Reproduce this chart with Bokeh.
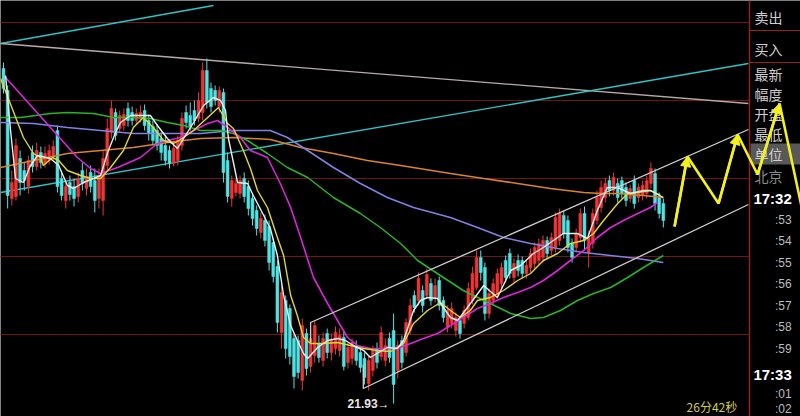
from bokeh.plotting import figure
from bokeh.models import Range1d, Label, BoxAnnotation, Arrow, NormalHead, ColumnDataSource, Span
from bokeh.embed import file_html
from bokeh.resources import INLINE

# ---------------- candle data (price) ----------------
opens = [25.28, 25.06, 23.98, 24.00, 24.38, 24.26, 24.10, 24.44, 24.30, 24.44,
         24.33, 24.36, 24.40, 24.66, 24.18, 23.96, 24.14, 24.10, 24.00, 24.26,
         24.08, 24.24, 24.16, 23.98, 23.96, 24.31, 24.64, 24.84, 24.68, 24.71,
         24.88, 24.84, 24.76, 24.78, 24.86, 24.76, 24.70, 24.66, 24.58, 24.51,
         24.46, 24.33, 24.36, 24.51, 24.84, 24.81, 24.86, 24.78, 24.84, 25.26,
         25.08, 25.06, 24.90, 25.04, 24.36, 23.98, 24.04, 24.03, 24.18, 24.10,
         23.98, 23.86, 23.64, 23.76, 23.70, 23.54, 23.30, 22.64, 22.96, 22.88,
         22.58, 22.56, 22.16, 22.63, 22.30, 22.41, 22.53, 22.36, 22.63, 22.44,
         22.48, 22.46, 22.59, 22.34, 22.38, 22.50, 22.44, 22.38, 22.13, 22.26,
         22.48, 22.40, 22.36, 22.58, 22.66, 22.26, 22.56, 22.44, 22.66, 23.01,
         22.96, 23.06, 23.01, 23.13, 22.98, 23.16, 22.96, 22.69, 22.73, 22.66,
         22.76, 22.73, 22.79, 22.96, 23.09, 23.39, 23.29, 22.83, 22.96, 23.03,
         23.13, 23.36, 23.43, 23.19, 23.36, 23.36, 23.23, 23.29, 23.33, 23.36,
         23.39, 23.56, 23.46, 23.49, 23.56, 23.81, 23.76, 23.53, 23.49, 23.59,
         23.83, 23.44, 23.53, 23.76, 23.89, 23.99, 24.16, 24.06, 24.13, 24.16,
         24.09, 23.98, 24.16, 23.99, 24.01, 24.03, 24.13, 24.23, 23.99, 23.93]
highs = [25.34, 25.11, 24.26, 24.58, 24.46, 24.34, 24.41, 24.51, 24.54, 24.50,
         24.50, 24.52, 24.56, 24.71, 24.26, 24.16, 24.21, 24.18, 24.24, 24.34,
         24.28, 24.31, 24.28, 24.28, 24.46, 24.78, 24.96, 24.88, 24.86, 24.88,
         24.94, 24.90, 24.88, 24.91, 24.92, 24.82, 24.76, 24.72, 24.64, 24.61,
         24.51, 24.56, 24.61, 24.84, 24.91, 24.94, 24.96, 25.04, 25.34, 25.38,
         25.14, 25.11, 25.10, 25.08, 24.44, 24.21, 24.18, 24.21, 24.24, 24.16,
         24.03, 23.91, 23.84, 23.82, 23.76, 23.58, 23.36, 23.12, 23.01, 22.92,
         22.62, 22.61, 22.78, 22.68, 22.66, 22.76, 22.61, 22.64, 22.68, 22.63,
         22.70, 22.68, 22.66, 22.54, 22.58, 22.56, 22.50, 22.44, 22.41, 22.51,
         22.54, 22.70, 22.58, 22.64, 22.83, 22.56, 22.61, 22.78, 22.98, 23.06,
         23.24, 23.11, 23.28, 23.18, 23.18, 23.20, 23.00, 22.91, 22.94, 22.84,
         22.80, 22.91, 23.14, 23.30, 23.46, 23.46, 23.34, 23.08, 23.18, 23.28,
         23.34, 23.41, 23.48, 23.38, 23.42, 23.40, 23.36, 23.48, 23.54, 23.58,
         23.61, 23.60, 23.64, 23.84, 23.88, 23.86, 23.81, 23.58, 23.68, 23.88,
         23.90, 23.66, 23.88, 24.06, 24.16, 24.19, 24.21, 24.24, 24.18, 24.20,
         24.14, 24.12, 24.21, 24.13, 24.16, 24.21, 24.34, 24.28, 24.04, 23.98]
lows = [25.03, 23.88, 23.91, 23.96, 24.01, 24.06, 24.03, 24.24, 24.26, 24.28,
        24.29, 24.32, 24.36, 24.04, 23.96, 23.88, 23.96, 23.90, 23.94, 24.06,
        24.01, 24.04, 23.84, 23.88, 23.81, 24.26, 24.58, 24.56, 24.64, 24.66,
        24.70, 24.71, 24.72, 24.74, 24.66, 24.56, 24.51, 24.46, 24.36, 24.31,
        24.28, 24.30, 24.31, 24.46, 24.68, 24.66, 24.71, 24.74, 24.76, 24.88,
        24.84, 24.91, 24.84, 24.14, 23.94, 23.90, 24.00, 23.98, 23.94, 23.81,
        23.71, 23.61, 23.58, 23.50, 23.26, 23.14, 22.64, 22.48, 22.38, 22.32,
        22.08, 22.18, 22.06, 22.21, 22.24, 22.34, 22.34, 22.30, 22.38, 22.36,
        22.42, 22.40, 22.26, 22.28, 22.32, 22.31, 22.24, 22.12, 22.06, 22.20,
        22.28, 22.36, 22.30, 22.34, 21.93, 22.18, 22.28, 22.40, 22.62, 22.84,
        22.91, 22.84, 22.98, 22.91, 22.94, 22.86, 22.74, 22.64, 22.68, 22.60,
        22.58, 22.68, 22.76, 22.92, 23.06, 23.16, 22.76, 22.78, 22.91, 22.98,
        23.08, 23.14, 23.18, 23.14, 23.20, 23.18, 23.18, 23.24, 23.28, 23.32,
        23.34, 23.38, 23.41, 23.44, 23.51, 23.58, 23.44, 23.34, 23.44, 23.54,
        23.46, 23.29, 23.48, 23.72, 23.84, 23.94, 24.00, 24.01, 23.94, 23.98,
        23.90, 23.94, 23.88, 23.94, 23.96, 23.98, 24.08, 23.86, 23.78, 23.69]
closes = [25.08, 24.01, 24.14, 24.51, 24.14, 24.16, 24.36, 24.30, 24.46, 24.34,
          24.43, 24.46, 24.50, 24.10, 24.01, 24.10, 24.02, 23.98, 24.18, 24.13,
          24.20, 24.10, 23.96, 24.21, 24.38, 24.68, 24.88, 24.61, 24.81, 24.82,
          24.76, 24.76, 24.83, 24.84, 24.71, 24.63, 24.56, 24.51, 24.44, 24.36,
          24.33, 24.48, 24.56, 24.78, 24.74, 24.70, 24.76, 24.96, 25.26, 24.94,
          24.90, 24.96, 25.06, 24.24, 24.00, 24.16, 24.13, 24.16, 24.00, 23.88,
          23.78, 23.68, 23.78, 23.56, 23.34, 23.20, 22.74, 23.04, 22.48, 22.40,
          22.20, 22.24, 22.71, 22.28, 22.58, 22.71, 22.39, 22.58, 22.44, 22.56,
          22.64, 22.61, 22.30, 22.49, 22.54, 22.36, 22.29, 22.19, 22.36, 22.46,
          22.34, 22.64, 22.51, 22.39, 22.12, 22.51, 22.34, 22.74, 22.91, 22.89,
          23.18, 22.91, 23.22, 22.96, 23.11, 22.91, 22.79, 22.86, 22.88, 22.79,
          22.63, 22.86, 23.08, 23.23, 23.39, 23.24, 22.83, 23.03, 23.13, 23.23,
          23.29, 23.19, 23.23, 23.33, 23.26, 23.23, 23.31, 23.43, 23.49, 23.53,
          23.56, 23.43, 23.59, 23.79, 23.83, 23.63, 23.49, 23.39, 23.63, 23.83,
          23.56, 23.59, 23.83, 23.99, 24.09, 24.13, 24.06, 24.19, 23.99, 24.03,
          23.96, 24.08, 23.93, 24.09, 24.11, 24.16, 24.28, 23.93, 23.83, 23.76]

# ---------------- moving averages (read at sampled bar positions) ----------------
ma5_x = [0.5, 1.7, 2.9, 4.8, 6.5, 8.2, 11.3, 13.3, 15.4, 16.9, 19.3, 21.7, 23.4, 25.1, 27.0, 28.2, 30.6, 35.4, 37.1, 39.5,
         41.9, 43.4, 45.8, 48.2, 50.6, 52.3, 53.5, 54.2, 56.4, 58.8, 60.2, 62.7, 64.3, 66.0, 67.5, 69.2, 70.8, 72.3, 73.3, 75.7,
         78.1, 80.5, 82.4, 84.3, 86.8, 88.4, 90.4, 92.5, 94.9, 96.4, 98.8, 100.5, 102.2, 104.6, 106.0, 107.7, 109.4, 111.8, 115.7, 119.0,
         122.2, 124.6, 127.7, 130.1, 132.5, 134.9, 138.3, 140.7, 143.1, 145.5, 148.0, 151.1, 154.2, 155.9, 159.0]
ma5_y = [25.21, 24.66, 24.18, 24.14, 24.31, 24.41, 24.38, 24.31, 24.11, 24.08, 24.14, 24.18, 24.21, 24.44, 24.64, 24.74, 24.81, 24.81, 24.71, 24.58,
         24.48, 24.58, 24.74, 24.91, 24.99, 24.96, 24.86, 24.58, 24.14, 24.13, 24.01, 23.81, 23.68, 23.41, 23.01, 22.71, 22.56, 22.43, 22.38, 22.49,
         22.56, 22.58, 22.56, 22.51, 22.46, 22.39, 22.44, 22.49, 22.48, 22.56, 22.86, 22.96, 22.99, 22.98, 22.89, 22.79, 22.76, 22.89, 23.11, 22.99,
         23.26, 23.31, 23.43, 23.49, 23.56, 23.63, 23.63, 23.58, 23.86, 24.09, 24.09, 24.03, 24.06, 24.06, 23.99]

ma10_x = [-0.7, 4.8, 7.2, 8.9, 9.6, 11.8, 13.3, 15.4, 18.6, 21.0, 23.4, 25.8, 28.9, 31.3, 33.7, 36.1, 38.6, 41.0, 43.4, 45.8,
          49.2, 51.8, 54.0, 55.4, 57.8, 59.5, 61.2, 63.6, 66.0, 67.5, 69.2, 70.8, 72.3, 74.0, 77.1, 80.5, 83.6, 86.8, 90.1, 93.3,
          96.4, 98.8, 102.2, 105.3, 107.7, 110.1, 112.5, 114.2, 117.3, 120.5, 123.9, 127.0, 130.1, 133.5, 136.6, 139.8, 142.2, 144.6, 148.0, 150.4,
          152.8, 155.9, 158.3]
ma10_y = [25.18, 24.59, 24.43, 24.39, 24.31, 24.39, 24.36, 24.26, 24.21, 24.18, 24.18, 24.29, 24.46, 24.69, 24.79, 24.69, 24.56, 24.53, 24.59, 24.66,
          24.79, 24.89, 24.73, 24.68, 24.46, 24.28, 24.06, 23.89, 23.59, 23.41, 23.01, 22.81, 22.59, 22.53, 22.53, 22.54, 22.51, 22.48, 22.46, 22.45,
          22.53, 22.73, 22.86, 22.94, 22.86, 22.79, 22.86, 22.96, 22.99, 23.06, 23.16, 23.23, 23.36, 23.43, 23.53, 23.56, 23.63, 23.76, 23.93, 24.03,
          24.04, 24.06, 24.01]

ma20_x = [0.5, 17.8, 21.0, 23.4, 27.5, 33.0, 37.1, 39.5, 42.7, 45.8, 49.2, 51.6, 54.0, 57.1, 59.5, 63.6, 66.7, 69.2, 71.6, 74.7,
          78.1, 80.5, 82.9, 85.3, 88.4, 91.6, 94.9, 98.1, 101.2, 104.6, 107.7, 110.8, 114.2, 117.3, 120.5, 123.9, 127.0, 130.1, 133.5, 136.6,
          139.8, 143.1, 146.3, 149.4, 152.8, 155.9, 157.6]
ma20_y = [25.19, 24.39, 24.28, 24.23, 24.29, 24.39, 24.53, 24.56, 24.59, 24.66, 24.73, 24.76, 24.69, 24.59, 24.46, 24.39, 24.13, 23.89, 23.59, 23.19,
          22.93, 22.76, 22.59, 22.51, 22.48, 22.48, 22.48, 22.53, 22.58, 22.63, 22.71, 22.79, 22.88, 22.93, 22.99, 23.04, 23.09, 23.16, 23.26, 23.36,
          23.46, 23.59, 23.69, 23.76, 23.83, 23.89, 23.94]

ma60_x = [-0.7, 4.1, 11.3, 15.4, 21.7, 26.5, 31.3, 35.4, 39.5, 43.4, 47.5, 52.3, 55.4, 58.8, 63.6, 68.4, 73.3, 79.5, 86.0, 90.8,
          95.7, 99.8, 106.0, 110.8, 117.3, 122.2, 127.0, 130.1, 134.2, 138.3, 142.2, 146.3, 150.4, 154.2, 159.0]
ma60_y = [24.79, 24.79, 24.83, 24.84, 24.83, 24.79, 24.79, 24.78, 24.74, 24.71, 24.66, 24.66, 24.63, 24.56, 24.43, 24.29, 24.19, 23.99, 23.83, 23.69,
          23.53, 23.36, 23.19, 23.06, 22.93, 22.83, 22.78, 22.79, 22.86, 22.96, 23.03, 23.09, 23.19, 23.29, 23.41]

ma120_x = [-0.7, 7.2, 15.4, 23.4, 31.3, 47.5, 55.4, 64.3, 68.4, 73.3, 79.5, 86.0, 92.5, 98.8, 107.7, 114.2, 120.5, 127.0, 133.5, 139.8,
           146.3, 152.8, 159.0]
ma120_y = [24.74, 24.73, 24.69, 24.66, 24.63, 24.63, 24.66, 24.66, 24.59, 24.46, 24.29, 24.13, 23.99, 23.89, 23.79, 23.69, 23.59, 23.53, 23.48, 23.44,
           23.41, 23.38, 23.34]

ma250_x = [-0.7, 7.2, 15.4, 23.4, 31.3, 39.5, 47.5, 55.4, 64.3, 71.6, 79.5, 87.7, 95.7, 107.7, 115.7, 123.9, 131.8, 139.8, 143.9, 148.0,
           154.2, 159.0]
ma250_y = [24.29, 24.36, 24.43, 24.46, 24.49, 24.54, 24.58, 24.59, 24.57, 24.49, 24.43, 24.36, 24.31, 24.23, 24.18, 24.13, 24.08, 24.04, 24.03, 24.03,
           24.01, 23.99]

# ---------------- drawn trend lines (bar index, price) ----------------
cyan_top_x, cyan_top_y = [-0.72, 50.6], [25.53, 25.91]
gray_long_x, gray_long_y = [-0.72, 179.5], [25.53, 24.93]
cyan_long_x, cyan_long_y = [-0.72, 179.5], [24.04, 25.33]
chan_up_x, chan_up_y = [74.0, 74.0, 179.5], [22.54, 22.74, 24.67]
chan_lo_x, chan_lo_y = [86.7, 86.7, 179.5], [22.32, 22.08, 23.92]
zig_x = [161.7, 164.8, 172.3, 176.9, 181.7, 187.0, 192.5]
zig_y = [23.70, 24.40, 23.93, 24.62, 24.22, 24.93, 23.86]
grid_levels = [25.74, 24.96, 24.18, 23.40, 22.62]
low_price = 21.93
timer_text = "26分42秒"

panel_labels = ["卖出", "买入", "最新", "幅度", "开盘", "最低", "单位", "北京"]
panel_label_y = [25.80, 25.48, 25.23, 25.03, 24.83, 24.63, 24.43, 24.21]
tick_labels = [":53", ":54", ":55", ":56", ":57", ":58", ":59", ":01", ":02"]
tick_y = [23.77, 23.56, 23.34, 23.13, 22.91, 22.70, 22.48, 22.03, 21.88]
big_times = ["17:32", "17:33"]
big_times_y = [23.98, 22.22]

UP = "#ee3434"
DOWN = "#4fe3e3"
YEL = "#f2f01e"
PANEL_X = 179.76

idx = list(range(len(closes)))
colors = [UP if c >= o else DOWN for o, c in zip(opens, closes)]
src = ColumnDataSource(dict(
    x=idx, top=[max(o, c) for o, c in zip(opens, closes)],
    bottom=[min(o, c) for o, c in zip(opens, closes)],
    high=highs, low=lows, color=colors))

p = figure(width=800, height=416, x_range=Range1d(-0.7229, 192.048), y_range=Range1d(21.80, 25.96),
           output_backend="svg", toolbar_location=None, x_axis_type=None, y_axis_type=None,
           background_fill_color="black", border_fill_color="black", outline_line_color=None,
           min_border=0)

# grid lines in main area
p.segment(x0=[-2] * len(grid_levels), x1=[PANEL_X] * len(grid_levels), y0=grid_levels, y1=grid_levels,
          line_color="#6e1616", line_width=1)
# panel horizontal separators
p.segment(x0=[PANEL_X, PANEL_X], x1=[195, 195], y0=[25.66, 25.34], y1=[25.66, 25.34],
          line_color="#9a2020", line_width=1.2)
p.add_layout(Span(location=PANEL_X, dimension="height", line_color="#9a2020", line_width=1.5))

# trend lines
p.line(cyan_top_x, cyan_top_y, line_color="#2cc4c8", line_width=1.3)
p.line(gray_long_x, gray_long_y, line_color="#bba9a9", line_width=1.3)
p.line(cyan_long_x, cyan_long_y, line_color="#2cc4c8", line_width=1.3)

# candles
p.segment(x0="x", x1="x", y0="high", y1="low", line_color="color", line_width=1, source=src)
p.vbar(x="x", width=0.7, top="top", bottom="bottom", fill_color="color", line_color="color",
       line_width=0.5, source=src)

# moving averages
p.line(ma250_x, ma250_y, line_color="#d8842c", line_width=1.5)
p.line(ma120_x, ma120_y, line_color="#8080e6", line_width=1.5)
p.line(ma60_x, ma60_y, line_color="#28b428", line_width=1.5)
p.line(ma20_x, ma20_y, line_color="#d826d8", line_width=1.6)
p.line(ma10_x, ma10_y, line_color="#e2d82a", line_width=1.4)
p.line(ma5_x, ma5_y, line_color="#ececec", line_width=1.4)

# channel
p.line(chan_up_x, chan_up_y, line_color="#cfcfcf", line_width=1.3)
p.line(chan_lo_x, chan_lo_y, line_color="#cfcfcf", line_width=1.3)

# right panel
p.add_layout(BoxAnnotation(left=180.0, right=195, top=24.53, bottom=24.32,
                           fill_color="#585858", fill_alpha=1, line_color=None))
for t, y in zip(panel_labels, panel_label_y):
    col = "#8a8a8a" if t == "北京" else "#cfcfcf"
    p.add_layout(Label(x=180.96, y=y, text=t, text_color=col, text_font="Noto Sans CJK SC",
                       text_font_size="14px", text_baseline="middle", text_align="left"))
for t, y in zip(big_times, big_times_y):
    p.add_layout(Label(x=180.7, y=y, text=t, text_color="#ffffff", text_font="Liberation Sans",
                       text_font_size="15px", text_font_style="bold", text_baseline="middle",
                       text_align="left"))
for t, y in zip(tick_labels, tick_y):
    p.add_layout(Label(x=189.9, y=y, text=t, text_color="#bdbdbd", text_font="Liberation Sans",
                       text_font_size="12px", text_baseline="middle", text_align="right"))

# low marker and timer
p.add_layout(Label(x=82.9, y=21.93, text="%.2f→" % low_price, text_color="#e8e8e8",
                   text_font="Liberation Sans", text_font_size="12px", text_font_style="bold",
                   text_baseline="middle", text_align="left"))
p.add_layout(Label(x=164.6, y=21.905, text=timer_text, text_color="#d6cc3c",
                   text_font="Noto Sans CJK SC", text_font_size="12px",
                   text_baseline="middle", text_align="left"))

# yellow zigzag with arrow heads
zz = p.line(zig_x, zig_y, line_color=YEL, line_width=2.6)
zz.level = "overlay"
for k in (0, 2, 4):
    ar = Arrow(end=NormalHead(size=10, fill_color=YEL, line_color=YEL),
               x_start=zig_x[k], y_start=zig_y[k], x_end=zig_x[k + 1], y_end=zig_y[k + 1],
               line_color=YEL, line_width=2.6, level="overlay")
    p.add_layout(ar)

html = file_html(p, INLINE, title="chart")
open("out.html", "w").write(html)
